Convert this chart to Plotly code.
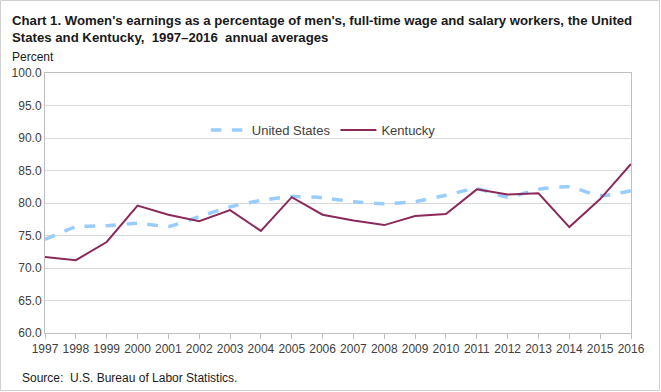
import plotly.graph_objects as go

years = [str(y) for y in range(1997, 2017)]
us_values = [74.4, 76.3, 76.5, 76.9, 76.4, 77.9, 79.4, 80.4, 81.0, 80.8,
             80.2, 79.9, 80.2, 81.2, 82.2, 80.9, 82.1, 82.5, 81.1, 81.9]
ky_values = [71.7, 71.2, 74.0, 79.6, 78.2, 77.2, 78.9, 75.7, 80.9, 78.2,
             77.3, 76.6, 78.0, 78.3, 82.1, 81.3, 81.5, 76.3, 80.6, 86.0]
y_ticks = [60, 65, 70, 75, 80, 85, 90, 95, 100]
y_tick_labels = [f"{v:.1f}" for v in y_ticks]

FONT = "Liberation Sans, Arial, sans-serif"
L, R, T, B = 45, 30, 73, 59
W, H = 661, 392
pw, ph = W - L - R, H - T - B

fig = go.Figure()
fig.add_trace(go.Scatter(x=years, y=us_values, name="United States", mode="lines",
                         line=dict(color="#99CCFF", width=3.5, dash="dash", shape="spline", smoothing=0.5)))
fig.add_trace(go.Scatter(x=years, y=ky_values, name="Kentucky", mode="lines",
                         line=dict(color="#8B2A5A", width=2)))

fig.update_layout(
    width=W, height=H,
    margin=dict(l=L, r=R, t=T, b=B),
    paper_bgcolor="white", plot_bgcolor="white",
    font=dict(family=FONT, size=12, color="#404040"),
    showlegend=True,
    legend=dict(orientation="h", x=0.475, y=(333 - 130) / ph, xanchor="center", yanchor="middle",
                bgcolor="rgba(0,0,0,0)", font=dict(size=13, color="#404040"),
                itemwidth=36, tracegroupgap=0),
    xaxis=dict(type="category", range=[0, len(years) - 1], showgrid=False,
               showline=True, linecolor="#BFBFBF", linewidth=1, mirror=True,
               ticks="outside", ticklen=5, tickcolor="#BFBFBF", tickson="labels",
               tickfont=dict(size=12, color="#404040"), fixedrange=True),
    yaxis=dict(range=[60, 100], tickvals=y_ticks, ticktext=y_tick_labels,
               showgrid=True, gridcolor="#D9D9D9", gridwidth=1,
               showline=True, linecolor="#BFBFBF", linewidth=1, mirror=True,
               ticks="", tickfont=dict(size=12, color="#404040"), zeroline=False,
               fixedrange=True),
    annotations=[
        dict(text="<b>Chart 1. Women's earnings as a percentage of men's, full-time wage and salary workers, the United<br>States and Kentucky,  1997–2016  annual averages</b>",
             xref="paper", yref="paper", x=-(L - 10) / pw, y=(333 - 11) / ph,
             xanchor="left", yanchor="top", align="left", showarrow=False,
             font=dict(family=FONT, size=13.2, color="#1a1a1a")),
        dict(text="Percent", xref="paper", yref="paper", x=-(L - 10) / pw, y=(333 - 48) / ph,
             xanchor="left", yanchor="top", showarrow=False,
             font=dict(family=FONT, size=12, color="#1a1a1a")),
        dict(text="Source:  U.S. Bureau of Labor Statistics.", xref="paper", yref="paper",
             x=-(L - 20) / pw, y=(333 - 369) / ph, xanchor="left", yanchor="top", showarrow=False,
             font=dict(family=FONT, size=12, color="#1a1a1a")),
    ],
    shapes=[dict(type="rect", xref="paper", yref="paper",
                 x0=(0.5 - L) / pw, x1=(W - 1.5 - L) / pw,
                 y0=(333 - (H - 1.5)) / ph, y1=(333 - 0.5) / ph,
                 line=dict(color="#D0D0D0", width=1), fillcolor="rgba(0,0,0,0)")],
)

fig.write_html("out.html", config={"displayModeBar": False},
               post_script="document.body.style.margin='0';document.body.style.overflow='hidden';")
